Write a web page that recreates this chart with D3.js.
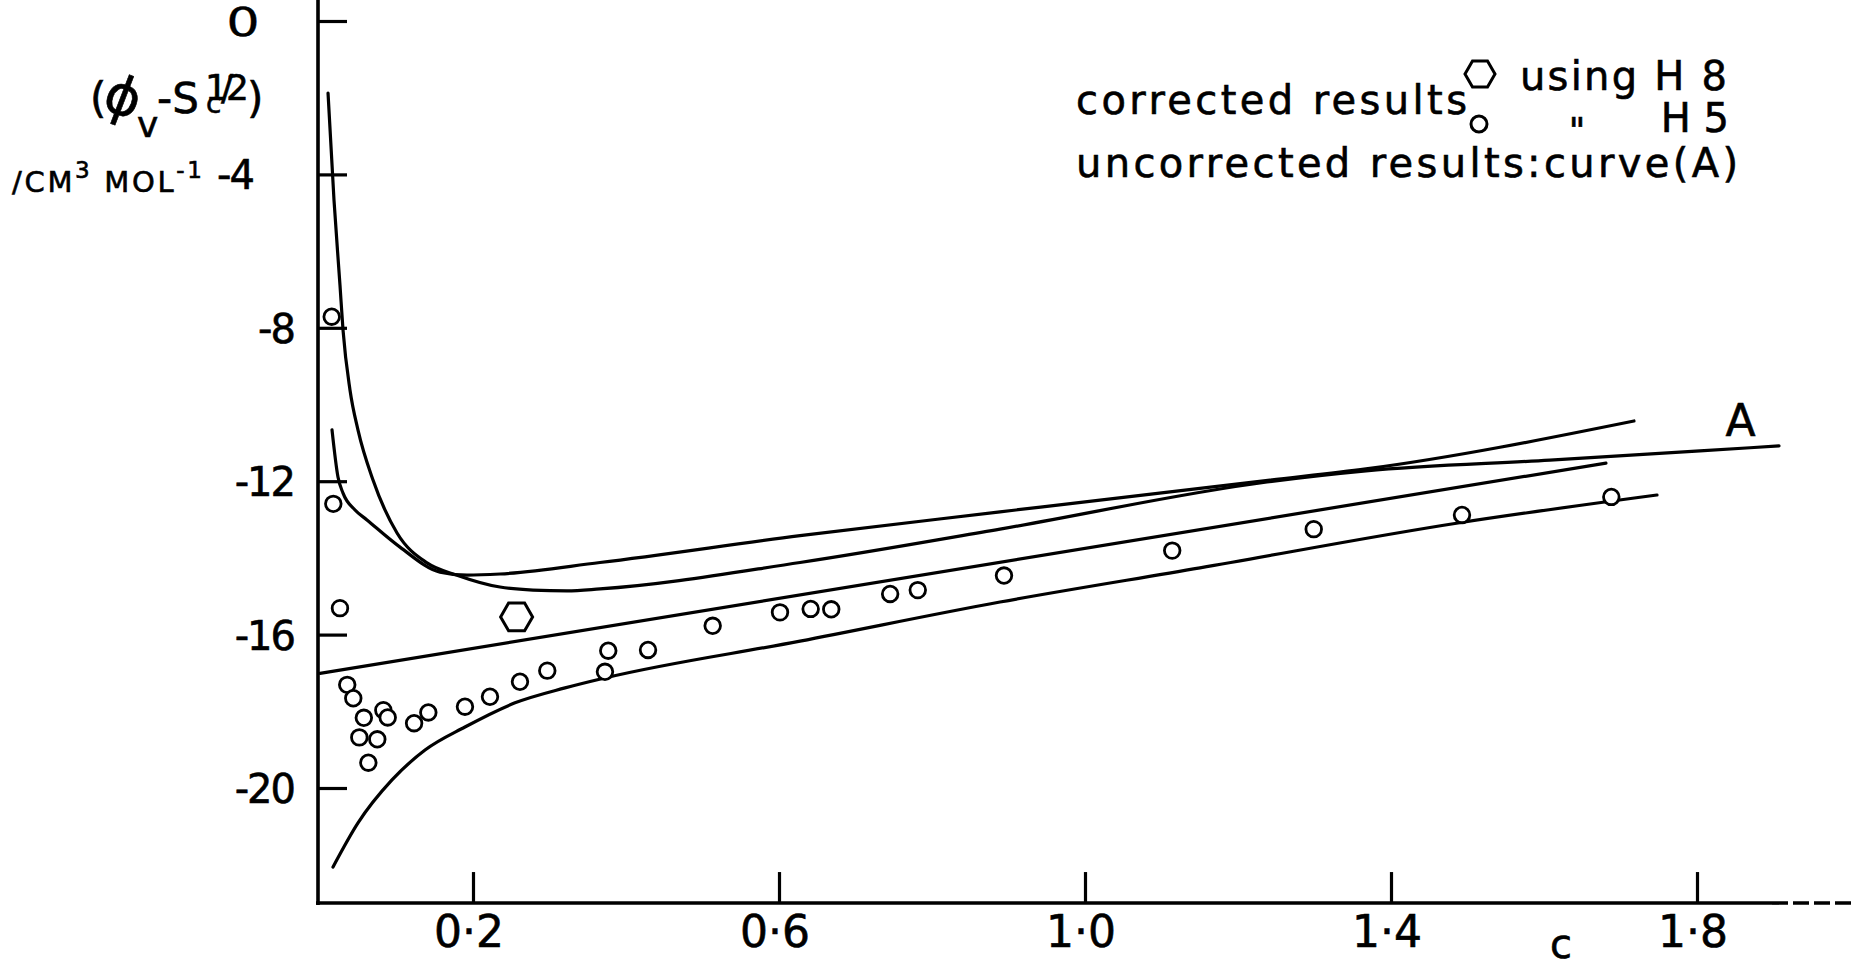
<!DOCTYPE html>
<html>
<head>
<meta charset="utf-8">
<script src="https://cdn.jsdelivr.net/npm/d3@7"></script>
<style>
  body { margin: 0; background: #fff; }
  svg { display: block; }
  text { font-family: "DejaVu Sans", sans-serif; fill: #000; stroke: #000; stroke-width: 0.6px; }
</style>
</head>
<body>
<svg id="canvas" width="1860" height="968"></svg>
<script>
// axis ticks
const xTicks = [0.2, 0.6, 1.0, 1.4, 1.8];
const xTickLabels = ['0·2', '0·6', '1·0', '1·4', '1·8'];
const yTicks = [0, -4, -8, -12, -16, -20];
const yTickLabels = ['0', '-4', '-8', '-12', '-16', '-20'];

// corrected results using H5 (small circles): [c, phi]
const pointsH5 = [
    [0.0153, -7.71], [0.0174, -12.59], [0.0261, -15.31], [0.0356, -17.31],
    [0.0435, -17.66], [0.0573, -18.17], [0.0828, -17.97], [0.0885, -18.16],
    [0.0514, -18.68], [0.0749, -18.73], [0.0632, -19.34], [0.123, -18.31],
    [0.1416, -18.03], [0.1895, -17.88], [0.2222, -17.62], [0.2614, -17.23],
    [0.2971, -16.94], [0.3768, -16.42], [0.3725, -16.97], [0.4288, -16.40],
    [0.5133, -15.77], [0.6013, -15.42], [0.6414, -15.33], [0.6683, -15.34],
    [0.7453, -14.94], [0.7814, -14.84], [0.8941, -14.46], [1.114, -13.81],
    [1.299, -13.25], [1.4928, -12.88], [1.688, -12.41]
];

// corrected result using H8 (hexagon)
const pointsH8 = [[0.257, -15.54]];

// uncorrected results, curve (A)
const curveA = [
    [0.0105, -1.88], [0.0183, -4.67], [0.0261, -6.88], [0.0301, -8.06],
    [0.0392, -9.62], [0.0497, -10.67], [0.0693, -11.97], [0.1007, -13.35],
    [0.1399, -14.13], [0.1791, -14.45], [0.2353, -14.76], [0.2784, -14.84],
    [0.3229, -14.86], [0.366, -14.81], [0.6275, -14.12], [0.8889, -13.25],
    [1.2379, -12.02], [1.3673, -11.73], [1.6078, -11.45], [1.8039, -11.21],
    [1.9072, -11.08]
];

// second upper curve
const curveB = [
    [0.0157, -10.66], [0.0235, -11.89], [0.0301, -12.31], [0.0458, -12.75],
    [0.0614, -13.01], [0.1046, -13.72], [0.1569, -14.37], [0.1922, -14.45],
    [0.2353, -14.42], [0.366, -14.12], [0.6275, -13.42], [0.8889, -12.80],
    [1.2418, -11.97], [1.3673, -11.68], [1.7176, -10.43]
];

// straight line from the axis
const lineC = [[0, -17.01], [1.681, -11.53]];

// lower curve
const curveD = [
    [0.017, -22.06], [0.0497, -20.91], [0.0941, -19.79], [0.1373, -19.01],
    [0.1895, -18.41], [0.2549, -17.78], [0.3203, -17.39], [0.3725, -17.13],
    [0.6275, -16.17], [0.8889, -15.15], [1.1503, -14.26], [1.4876, -13.09],
    [1.7477, -12.36]
];

const canvas = d3.select('#canvas');

/** Scales */
const x = d3.scaleLinear().domain([0, 1.8]).range([320, 320 + 1.8 * 765]);
const y = d3.scaleLinear().domain([0, -20]).range([21, 21 + 20 * 38.35]);
const xAxisY = y(-23);
const yAxisX = 318;

/** Hexagon path, flat top */
const hexPath = (r) => {
    let pts = d3.range(6).map((i) => {
        let a = Math.PI / 3 * i;
        return [r * Math.cos(a), r * Math.sin(a)];
    });
    return 'M' + pts.map((p) => p.join(',')).join('L') + 'Z';
};

/** Axes */
canvas.append('g')
    .attr('transform', `translate(${yAxisX},0)`)
    .call(d3.axisRight(y).tickValues(yTicks).tickSize(29).tickFormat(''))
    .call((g) => g.select('.domain').remove())
    .selectAll('line').attr('stroke', '#000').attr('stroke-width', 3.2);

canvas.append('g')
    .attr('transform', `translate(0,${xAxisY})`)
    .call(d3.axisTop(x).tickValues(xTicks).tickSize(31).tickFormat(''))
    .call((g) => g.select('.domain').remove())
    .selectAll('line').attr('stroke', '#000').attr('stroke-width', 3.2);

canvas.append('line')
    .attr('x1', yAxisX).attr('x2', yAxisX)
    .attr('y1', 0).attr('y2', xAxisY + 2)
    .attr('stroke', '#000').attr('stroke-width', 3.6);

canvas.append('line')
    .attr('x1', yAxisX - 2).attr('x2', 1772)
    .attr('y1', xAxisY).attr('y2', xAxisY)
    .attr('stroke', '#000').attr('stroke-width', 3.6);

canvas.append('line')
    .attr('x1', 1772).attr('x2', 1852)
    .attr('y1', xAxisY).attr('y2', xAxisY)
    .attr('stroke', '#000').attr('stroke-width', 3.6)
    .attr('stroke-dasharray', '16 5');

/** Tick labels */
canvas.selectAll('.xlabel')
    .data(xTicks)
    .enter()
    .append('text')
    .attr('class', 'xlabel')
    .attr('x', (d) => x(d) - 4)
    .attr('y', xAxisY + 44)
    .attr('text-anchor', 'middle')
    .attr('font-size', 44)
    .text((d, i) => xTickLabels[i]);

/** y labels; the top "0" is drawn round as in the original lettering */
canvas.selectAll('.ylabel')
    .data(yTicks)
    .enter()
    .append('text')
    .attr('class', 'ylabel')
    .attr('x', (d) => d === 0 ? 0 : (d > -8 ? 253 : 294))
    .attr('y', (d) => d === 0 ? 0 : y(d) + 15)
    .attr('transform', (d) => d === 0 ? `translate(243,${y(d) + 15}) scale(1.35,1)` : null)
    .attr('text-anchor', (d) => d === 0 ? 'middle' : 'end')
    .attr('font-size', (d) => d === 0 ? 39 : 40)
    .attr('letter-spacing', (d) => d === 0 ? 0 : -2)
    .style('stroke-width', (d) => d === 0 ? '0.3px' : null)
    .text((d, i) => yTickLabels[i]);

/** Axis titles */
canvas.append('text')
    .attr('x', 1561).attr('y', 958)
    .attr('text-anchor', 'middle')
    .attr('font-size', 40)
    .text('c');

const yTitle = canvas.append('text')
    .attr('y', 113)
    .attr('font-size', 42);
yTitle.append('tspan').attr('x', 90).text('(');
yTitle.append('tspan').attr('x', 137).attr('dy', 24).attr('font-size', 36).text('v');
yTitle.append('tspan').attr('x', 157).attr('dy', -24).text('-S');
yTitle.append('tspan').attr('x', 206).attr('font-size', 28).text('c');
yTitle.append('tspan').attr('x', 205).attr('dy', -13).attr('font-size', 36).attr('letter-spacing', -7).text('1/2');
yTitle.append('tspan').attr('x', 247).attr('dy', 13).text(')');

canvas.append('text')
    .attr('x', 0).attr('y', 0)
    .attr('text-anchor', 'middle')
    .attr('font-size', 54)
    .attr('transform', 'translate(117,114) rotate(21)')
    .text('ϕ');

const yUnit = canvas.append('text')
    .attr('x', 12).attr('y', 192)
    .attr('font-size', 29)
    .attr('textLength', 190)
    .attr('lengthAdjust', 'spacing');
yUnit.append('tspan').text('/CM');
yUnit.append('tspan').attr('dy', -14).attr('font-size', 23).text('3');
yUnit.append('tspan').attr('dy', 14).text(' MOL');
yUnit.append('tspan').attr('dy', -14).attr('font-size', 23).text('-1');

/** Curves */
const lineGen = d3.line()
    .x((d) => x(d[0]))
    .y((d) => y(d[1]))
    .curve(d3.curveMonotoneX);

canvas.selectAll('.curve')
    .data([curveA, curveB, lineC, curveD])
    .enter()
    .append('path')
    .attr('class', 'curve')
    .attr('d', lineGen)
    .attr('fill', 'none')
    .attr('stroke', '#000')
    .attr('stroke-width', 3.2)
    .attr('stroke-linecap', 'round');

canvas.append('text')
    .attr('x', x(1.9) - 33).attr('y', 436)
    .attr('text-anchor', 'middle')
    .attr('font-size', 44)
    .text('A');

/** Points */
canvas.selectAll('.h5')
    .data(pointsH5)
    .enter()
    .append('circle')
    .attr('class', 'h5')
    .attr('cx', (d) => x(d[0]))
    .attr('cy', (d) => y(d[1]))
    .attr('r', 7.8)
    .attr('fill', '#fff')
    .attr('stroke', '#000')
    .attr('stroke-width', 2.8);

canvas.selectAll('.h8')
    .data(pointsH8)
    .enter()
    .append('path')
    .attr('class', 'h8')
    .attr('transform', (d) => `translate(${x(d[0])},${y(d[1])})`)
    .attr('d', hexPath(16))
    .attr('fill', '#fff')
    .attr('stroke', '#000')
    .attr('stroke-width', 3);

/** Legend */
canvas.append('text')
    .attr('x', 1076).attr('y', 114)
    .attr('font-size', 40)
    .attr('textLength', 391).attr('lengthAdjust', 'spacing')
    .text('corrected results');

canvas.append('path')
    .attr('transform', 'translate(1480,74)')
    .attr('d', hexPath(15))
    .attr('fill', '#fff')
    .attr('stroke', '#000')
    .attr('stroke-width', 3);

canvas.append('text')
    .attr('x', 1520).attr('y', 90)
    .attr('font-size', 40)
    .attr('textLength', 207).attr('lengthAdjust', 'spacing')
    .text('using H 8');

canvas.append('circle')
    .attr('cx', 1479).attr('cy', 124)
    .attr('r', 8)
    .attr('fill', '#fff')
    .attr('stroke', '#000')
    .attr('stroke-width', 3);

canvas.append('text')
    .attr('x', 1577).attr('y', 143)
    .attr('text-anchor', 'middle')
    .attr('font-size', 36)
    .text('"');

canvas.append('text')
    .attr('x', 1729).attr('y', 132)
    .attr('text-anchor', 'end')
    .attr('font-size', 40)
    .text('H 5');

canvas.append('text')
    .attr('x', 1076).attr('y', 177)
    .attr('font-size', 40)
    .attr('textLength', 662).attr('lengthAdjust', 'spacing')
    .text('uncorrected results:curve(A)');
</script>
</body>
</html>
